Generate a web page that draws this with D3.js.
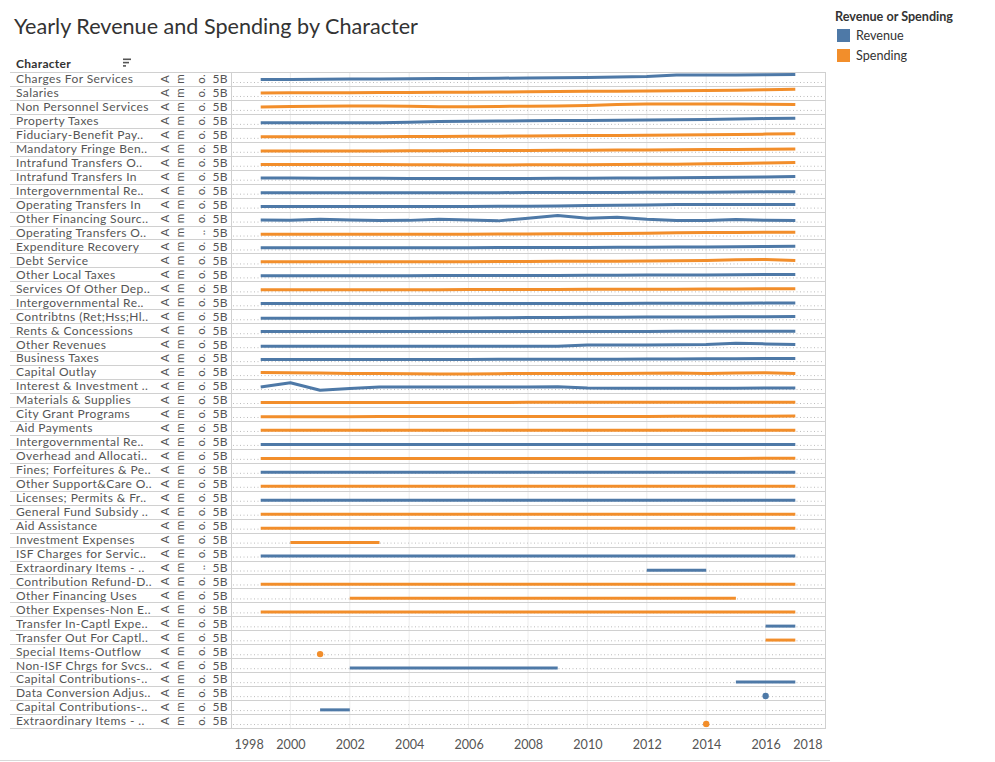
<!DOCTYPE html>
<html>
<head>
<meta charset="utf-8">
<script src="https://cdn.jsdelivr.net/npm/d3@7"></script>
<style>
  body { margin: 0; background: #fff; }
  svg text { font-family: Lato, "Open Sans", sans-serif; }
</style>
</head>
<body>
<svg id="chart" width="995" height="762"></svg>
<script>
// years on the x axis
var years = d3.range(1999, 2018);
var tickYears = [1998, 2000, 2002, 2004, 2006, 2008, 2010, 2012, 2014, 2016, 2018];

// row labels, as Tableau truncates them
var characters = ["Charges For Services", "Salaries", "Non Personnel Services", "Property Taxes",
  "Fiduciary-Benefit Pay..", "Mandatory Fringe Ben..", "Intrafund Transfers O..", "Intrafund Transfers In",
  "Intergovernmental Re..", "Operating Transfers In", "Other Financing Sourc..", "Operating Transfers O..",
  "Expenditure Recovery", "Debt Service", "Other Local Taxes", "Services Of Other Dep..",
  "Intergovernmental Re..", "Contribtns (Ret;Hss;Hl..", "Rents & Concessions", "Other Revenues",
  "Business Taxes", "Capital Outlay", "Interest & Investment ..", "Materials & Supplies",
  "City Grant Programs", "Aid Payments", "Intergovernmental Re..", "Overhead and Allocati..",
  "Fines; Forfeitures & Pe..", "Other Support&Care O..", "Licenses; Permits & Fr..", "General Fund Subsidy ..",
  "Aid Assistance", "Investment Expenses", "ISF Charges for Servic..", "Extraordinary Items - ..",
  "Contribution Refund-D..", "Other Financing Uses", "Other Expenses-Non E..", "Transfer In-Captl Expe..",
  "Transfer Out For Captl..", "Special Items-Outflow", "Non-ISF Chrgs for Svcs..", "Capital Contributions-..",
  "Data Conversion Adjus..", "Capital Contributions-..", "Extraordinary Items - .."];

// R = Revenue, S = Spending
var kinds = ["R","S","S","R","S","S","S","R","R","R","R","S","R","S","R","S","R","R","R","R","R","S","R",
  "S","S","S","R","S","R","S","R","S","S","S","R","R","S","S","S","R","S","S","R","R","R","R","S"];

// rows where the axis title is cut to ".."
var shortTitleRows = [11, 35];

// amounts in billions, 1999..2017 (null = no value that year)
var n = null;
var amounts = [
  [1.6,1.73,1.8,1.93,2.0,2.13,2.27,2.4,2.53,2.67,2.8,3.0,3.33,3.67,4.67,4.67,4.73,4.87,5.07],
  [2.0,2.07,2.13,2.2,2.27,2.33,2.4,2.53,2.67,2.8,3.0,3.07,3.13,3.27,3.4,3.6,3.87,4.13,4.4],
  [2.0,2.2,2.4,2.55,2.67,2.4,2.1,2.1,2.3,2.5,2.67,3.0,3.53,4.0,4.0,4.0,4.0,3.8,3.53],
  [0.67,0.67,0.7,0.73,0.8,1.1,1.5,1.7,1.85,2.0,2.2,2.3,2.45,2.55,2.67,2.9,3.2,3.53,3.8],
  [0.67,0.67,0.73,0.73,0.8,0.87,0.93,1.0,1.13,1.2,1.33,1.47,1.6,1.8,1.93,2.07,2.27,2.47,2.67],
  [0.47,0.47,0.53,0.53,0.6,0.67,0.73,0.8,0.87,0.93,1.0,1.07,1.13,1.27,1.33,1.47,1.6,1.67,1.8],
  [0.87,0.87,0.87,0.87,0.87,0.73,0.6,0.47,0.53,0.6,0.67,0.73,0.8,0.93,1.07,1.27,1.53,1.87,2.2],
  [1.13,1.07,1.0,0.93,0.93,0.87,0.87,0.87,0.87,0.87,0.93,1.0,1.07,1.13,1.27,1.4,1.6,1.87,2.2],
  [0.67,0.67,0.67,0.67,0.67,0.67,0.67,0.67,0.67,0.73,0.73,0.8,0.8,0.87,0.93,1.0,1.07,1.2,1.33],
  [0.67,0.67,0.67,0.67,0.67,0.67,0.73,0.8,0.87,0.93,1.07,1.33,1.53,1.8,2.0,2.0,2.0,2.0,2.0],
  [1.13,0.93,1.53,1.07,0.67,0.8,1.53,1.13,0.47,2.2,4.0,2.2,2.87,1.47,0.67,0.67,1.33,0.87,0.67],
  [0.87,0.87,0.87,0.87,0.87,0.87,0.87,0.93,1.0,1.07,1.13,1.2,1.33,1.6,1.87,2.0,2.07,2.13,2.2],
  [1.13,1.13,1.13,1.13,1.13,1.13,1.2,1.2,1.27,1.33,1.33,1.4,1.47,1.53,1.6,1.73,1.87,2.07,2.2],
  [1.13,1.13,1.13,1.13,1.13,1.13,1.13,1.2,1.27,1.33,1.4,1.47,1.53,1.6,1.73,2.0,2.53,2.67,2.0],
  [1.13,1.13,1.13,1.13,1.13,1.13,1.2,1.2,1.27,1.27,1.33,1.4,1.47,1.53,1.6,1.67,1.8,1.87,2.0],
  [1.13,1.13,1.13,1.13,1.13,1.13,1.13,1.2,1.2,1.27,1.27,1.33,1.33,1.4,1.47,1.53,1.6,1.67,1.8],
  [1.13,1.13,1.13,1.13,1.13,1.13,1.13,1.13,1.13,1.2,1.2,1.27,1.27,1.33,1.33,1.33,1.4,1.47,1.53],
  [0.67,0.67,0.67,0.67,0.67,0.73,0.8,0.87,1.0,1.13,1.2,1.33,1.4,1.47,1.53,1.6,1.67,1.73,1.8],
  [1.13,1.13,1.13,1.13,1.13,1.13,1.13,1.13,1.13,1.13,1.2,1.2,1.2,1.2,1.27,1.27,1.27,1.33,1.33],
  [0.67,0.67,0.67,0.67,0.67,0.67,0.67,0.67,0.67,0.67,0.67,1.53,1.53,1.53,1.6,1.73,2.67,2.2,1.73],
  [1.13,1.13,1.13,1.13,1.13,1.13,1.13,1.13,1.2,1.2,1.27,1.27,1.33,1.4,1.47,1.53,1.6,1.73,1.8],
  [1.8,1.6,1.4,1.13,1.0,0.87,0.67,0.8,0.93,1.13,1.13,1.13,1.13,1.2,1.4,1.1,1.4,1.6,1.0],
  [1.33,4.2,-0.8,0.3,1.33,1.33,1.33,1.33,1.33,1.4,1.53,0.67,0.53,0.47,0.5,0.55,0.6,0.67,0.67],
  [0.35,0.35,0.35,0.37,0.38,0.4,0.4,0.42,0.42,0.44,0.45,0.45,0.46,0.47,0.48,0.5,0.52,0.54,0.56],
  [0.2,0.2,0.22,0.22,0.24,0.25,0.26,0.28,0.3,0.32,0.34,0.36,0.38,0.4,0.42,0.45,0.5,0.55,0.6],
  [0.4,0.4,0.4,0.4,0.4,0.4,0.4,0.4,0.4,0.4,0.4,0.4,0.4,0.4,0.4,0.42,0.42,0.44,0.45],
  [0.3,0.3,0.3,0.3,0.3,0.3,0.3,0.3,0.3,0.3,0.3,0.3,0.3,0.3,0.3,0.3,0.32,0.33,0.34],
  [0.3,0.3,0.3,0.3,0.3,0.3,0.3,0.3,0.3,0.3,0.3,0.3,0.3,0.3,0.3,0.3,0.3,0.32,0.34],
  [0.3,0.3,0.3,0.3,0.3,0.3,0.3,0.3,0.3,0.3,0.3,0.3,0.3,0.3,0.3,0.3,0.3,0.3,0.3],
  [0.3,0.3,0.3,0.3,0.3,0.3,0.3,0.3,0.3,0.3,0.3,0.3,0.3,0.3,0.3,0.3,0.3,0.3,0.3],
  [0.3,0.3,0.3,0.3,0.3,0.3,0.3,0.3,0.3,0.3,0.3,0.3,0.3,0.3,0.3,0.3,0.3,0.3,0.3],
  [0.3,0.3,0.3,0.3,0.3,0.3,0.3,0.3,0.3,0.3,0.3,0.3,0.3,0.3,0.3,0.3,0.3,0.3,0.3],
  [0.3,0.3,0.3,0.3,0.3,0.3,0.3,0.3,0.3,0.3,0.3,0.3,0.3,0.3,0.3,0.3,0.3,0.3,0.3],
  [n,0.1,0.1,0.1,0.1,n,n,n,n,n,n,n,n,n,n,n,n,n,n],
  [0.3,0.3,0.3,0.3,0.3,0.3,0.3,0.3,0.3,0.3,0.3,0.3,0.3,0.3,0.3,0.3,0.3,0.3,0.3],
  [n,n,n,n,n,n,n,n,n,n,n,n,n,0.1,0.1,0.1,n,n,n],
  [0.2,0.2,0.2,0.2,0.2,0.2,0.2,0.2,0.2,0.2,0.2,0.2,0.2,0.2,0.2,0.2,0.2,0.2,0.2],
  [n,n,n,0.15,0.15,0.15,0.15,0.15,0.15,0.15,0.15,0.15,0.15,0.15,0.15,0.15,0.15,n,n],
  [0.2,0.2,0.2,0.2,0.2,0.2,0.2,0.2,0.2,0.2,0.2,0.2,0.2,0.2,0.2,0.2,0.2,0.2,0.2],
  [n,n,n,n,n,n,n,n,n,n,n,n,n,n,n,n,n,0.15,0.15],
  [n,n,n,n,n,n,n,n,n,n,n,n,n,n,n,n,n,0.15,0.15],
  [n,n,0.1,n,n,n,n,n,n,n,n,n,n,n,n,n,n,n,n],
  [n,n,n,0.15,0.15,0.15,0.15,0.15,0.15,0.15,0.15,n,n,n,n,n,n,n,n],
  [n,n,n,n,n,n,n,n,n,n,n,n,n,n,n,n,0.15,0.15,0.15],
  [n,n,n,n,n,n,n,n,n,n,n,n,n,n,n,n,n,0.1,n],
  [n,n,0.15,0.15,n,n,n,n,n,n,n,n,n,n,n,n,n,n,n],
  [n,n,n,n,n,n,n,n,n,n,n,n,n,n,n,0.1,n,n,n]
];

var colors = { R: "#4e79a7", S: "#f28e2b" };
var legendItems = [["R", "Revenue"], ["S", "Spending"]];

var svg = d3.select("#chart");
var plotLeft = 231, plotRight = 825, plotTop = 72, plotBottom = 728;

var x = d3.scaleLinear().domain([1998, 2018]).range([plotLeft, plotRight]);
var row = d3.scaleBand().domain(d3.range(characters.length)).range([plotTop, plotBottom]);
// value scale inside one row, relative to the row's top edge
var v = d3.scaleLinear().domain([0, 5]).range([10, 2.5]);

// title
svg.append("text").attr("x", 14).attr("y", 34)
  .style("font-size", "21.6px").style("fill", "#333")
  .text("Yearly Revenue and Spending by Character");

// header
svg.append("text").attr("x", 16).attr("y", 68)
  .style("font-size", "12px").style("letter-spacing", "0.3px")
  .style("font-weight", "bold").style("fill", "#333")
  .text("Character");
[8, 6, 3].forEach(function (w, i) {
  svg.append("rect").attr("x", 123).attr("y", 58.5 + i * 3.3)
    .attr("width", w).attr("height", 1.6).attr("fill", "#555");
});

// vertical grid every two years
svg.append("g").selectAll("line")
  .data(tickYears.slice(1, -1))
  .enter().append("line")
  .attr("x1", function (d) { return x(d); }).attr("x2", function (d) { return x(d); })
  .attr("y1", plotTop).attr("y2", plotBottom)
  .attr("stroke", "#ececec").attr("stroke-width", 1);

// row separators
svg.append("g").selectAll("line")
  .data(d3.range(characters.length + 1))
  .enter().append("line")
  .attr("x1", 10).attr("x2", plotRight + 1)
  .attr("y1", function (d) { return Math.round(plotTop + d * row.step()) + 0.5; })
  .attr("y2", function (d) { return Math.round(plotTop + d * row.step()) + 0.5; })
  .attr("stroke", "#d0d0d0").attr("stroke-width", 1);

// plot borders
[plotLeft, plotRight].forEach(function (px) {
  svg.append("line").attr("x1", px + 0.5).attr("x2", px + 0.5)
    .attr("y1", plotTop).attr("y2", plotBottom + 1)
    .attr("stroke", "#d0d0d0");
});

var rows = svg.append("g").selectAll("g")
  .data(characters)
  .enter().append("g")
  .attr("transform", function (d, i) { return "translate(0," + row(i) + ")"; });

// labels
rows.append("text").attr("x", 16).attr("y", 11.3)
  .style("font-size", "12px").style("letter-spacing", "0.4px").style("fill", "#555")
  .text(function (d) { return d; });

// the squeezed "Amount" axis title and its 5B tick
function rotated(sel, px, txt) {
  sel.append("text")
    .attr("transform", "translate(" + px + ",7) rotate(-90)")
    .attr("text-anchor", "middle").attr("dy", "0.35em")
    .style("font-size", "11.5px").style("fill", "#555")
    .text(txt);
}
rows.each(function (d, i) {
  var g = d3.select(this);
  rotated(g, 165, "A");
  rotated(g, 180, "m");
  rotated(g, 201, shortTitleRows.indexOf(i) >= 0 ? ".." : "o.");
  g.append("text").attr("x", 228).attr("y", 11.3).attr("text-anchor", "end")
    .style("font-size", "12px").style("letter-spacing", "0.4px").style("fill", "#555").text("5B");
});

// zero lines
rows.append("line")
  .attr("x1", plotLeft + 2).attr("x2", plotRight - 1)
  .attr("y1", v(0) + 0.5).attr("y2", v(0) + 0.5)
  .attr("stroke", "#bdbdbd").attr("stroke-width", 1)
  .attr("stroke-dasharray", "1,2.5");

var line = d3.line()
  .defined(function (d) { return d[1] != null; })
  .x(function (d) { return x(d[0]); })
  .y(function (d) { return v(d[1]); });

rows.each(function (d, i) {
  var g = d3.select(this);
  var pts = years.map(function (yr, k) { return [yr, amounts[i][k]]; });
  g.append("path").datum(pts)
    .attr("d", line)
    .attr("fill", "none")
    .attr("stroke", colors[kinds[i]])
    .attr("stroke-width", 3)
    .attr("stroke-linejoin", "round");
  // lone values are drawn as dots
  var lone = pts.filter(function (p, k) {
    return p[1] != null && (k === 0 || pts[k - 1][1] == null) && (k === pts.length - 1 || pts[k + 1][1] == null);
  });
  g.selectAll("circle").data(lone).enter().append("circle")
    .attr("cx", function (p) { return x(p[0]); })
    .attr("cy", function (p) { return v(p[1]); })
    .attr("r", 3.2)
    .attr("fill", colors[kinds[i]]);
});

// x axis
var axis = svg.append("g")
  .attr("transform", "translate(0," + (plotBottom + 4) + ")")
  .call(d3.axisBottom(x).tickValues(tickYears).tickFormat(d3.format("d")).tickSize(0).tickPadding(8));
axis.select(".domain").remove();
axis.selectAll("text")
  .style("font-family", "Lato, sans-serif").style("font-size", "12.6px").style("fill", "#555")
  .attr("text-anchor", function (d) { return d === 1998 ? "start" : d === 2018 ? "end" : "middle"; })
  .attr("x", function (d) { return d === 1998 ? 3 : d === 2018 ? -3 : 0; });

// bottom strip
svg.append("line").attr("x1", 0).attr("x2", 830).attr("y1", 760.5).attr("y2", 760.5)
  .attr("stroke", "#d8d8d8");

// legend
var legend = svg.append("g").attr("transform", "translate(835,0)");
legend.append("text").attr("x", 0).attr("y", 21)
  .style("font-size", "12.6px").style("font-weight", "bold").style("fill", "#333")
  .text("Revenue or Spending");
var li = legend.selectAll(".li").data(legendItems).enter().append("g")
  .attr("transform", function (d, i) { return "translate(0," + (29 + i * 20) + ")"; });
li.append("rect").attr("x", 2).attr("width", 13).attr("height", 13)
  .attr("fill", function (d) { return colors[d[0]]; });
li.append("text").attr("x", 21).attr("y", 11)
  .style("font-size", "12.6px").style("fill", "#333")
  .text(function (d) { return d[1]; });
</script>
</body>
</html>
